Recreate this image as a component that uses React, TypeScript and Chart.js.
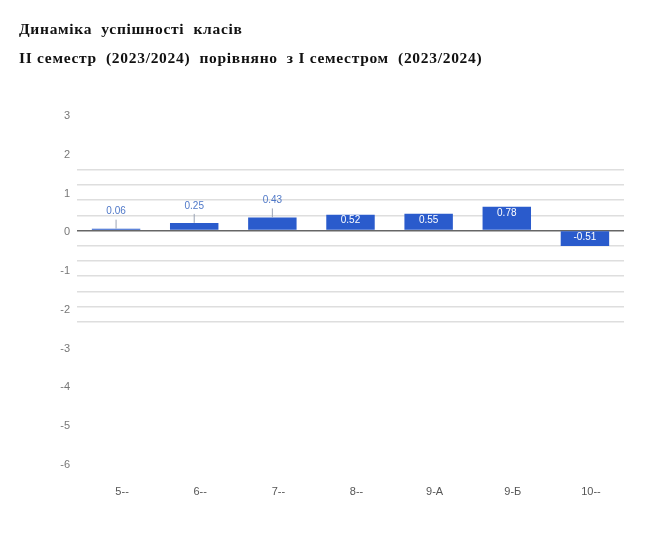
import React, { useEffect, useRef } from "react";
import { Chart, registerables } from "chart.js";

Chart.register(...registerables);

const classes = ["5--", "6--", "7--", "8--", "9-А", "9-Б", "10--"];
const changes = [0.06, 0.25, 0.43, 0.52, 0.55, 0.78, -0.51];
const axisLabels = [3, 2, 1, 0, -1, -2, -3, -4, -5, -6];
const titleLines = [
  "Динаміка  успішності  класів",
  "II семестр  (2023/2024)  порівняно  з I семестром  (2023/2024)",
];

const barColor = "#2a5bcc";

// labels drawn above small bars (with a short leader) or inside bigger ones
const valueLabels = {
  id: "valueLabels",
  afterDatasetsDraw(chart: any) {
    const ctx = chart.ctx as CanvasRenderingContext2D;
    const meta = chart.getDatasetMeta(0);
    ctx.save();
    ctx.font = "10px 'Liberation Sans', Arial, sans-serif";
    ctx.textAlign = "center";
    ctx.textBaseline = "middle";
    meta.data.forEach((bar: any, i: number) => {
      const v = changes[i];
      const top = Math.min(bar.y, bar.base);
      const h = Math.abs(bar.base - bar.y);
      const txt = v.toFixed(2);
      if (h < 14) {
        ctx.strokeStyle = "#9aa3b5";
        ctx.lineWidth = 1;
        ctx.beginPath();
        ctx.moveTo(bar.x, top);
        ctx.lineTo(bar.x, top - 9);
        ctx.stroke();
        ctx.fillStyle = "#4f78c8";
        ctx.fillText(txt, bar.x, top - 17);
      } else {
        ctx.fillStyle = "#ffffff";
        ctx.fillText(txt, bar.x, top + 6);
      }
    });
    ctx.restore();
  },
};

const BarChart = () => {
  const ref = useRef<HTMLCanvasElement>(null);

  useEffect(() => {
    const canvas = ref.current as HTMLCanvasElement;
    const config: any = {
      type: "bar",
      data: {
        labels: classes,
        datasets: [
          {
            data: changes,
            backgroundColor: barColor,
            borderWidth: 0,
            barPercentage: 0.62,
            categoryPercentage: 1,
            yAxisID: "yBar",
          },
        ],
      },
      options: {
        responsive: false,
        animation: false,
        layout: { padding: { top: 116, left: 0, right: 33, bottom: 31 } },
        plugins: {
          legend: { display: false },
          tooltip: { enabled: false },
        },
        scales: {
          x: {
            grid: { display: false, drawTicks: false },
            border: { display: false },
            ticks: {
              padding: 20,
              labelOffset: 6,
              color: "#555",
              font: { size: 11, family: "'Liberation Sans', Arial, sans-serif" },
            },
            afterFit: (s: any) => {
              s.height = 40;
            },
          },
          y: {
            position: "left",
            min: axisLabels[axisLabels.length - 1],
            max: axisLabels[0],
            grid: { display: false, drawTicks: false },
            border: { display: false },
            ticks: {
              stepSize: 1,
              padding: 7,
              color: "#777",
              font: { size: 11, family: "'Liberation Sans', Arial, sans-serif" },
            },
            afterFit: (s: any) => {
              s.width = 77;
            },
          },
          yBar: {
            position: "right",
            min: -7.714,
            max: 3.766,
            border: { display: false },
            ticks: { display: false, stepSize: 0.5 },
            grid: {
              drawTicks: false,
              color: (c: any) => {
                const v = c.tick ? c.tick.value : 99;
                if (Math.abs(v) < 1e-9) return "#666";
                if (v >= -3.01 && v <= 2.01) return "#dedede";
                return "rgba(0,0,0,0)";
              },
              lineWidth: 1.5,
            },
            afterFit: (s: any) => {
              s.width = 0;
            },
          },
        },
      },
      plugins: [valueLabels],
    };
    const chart = new Chart(canvas, config);
    return () => chart.destroy();
  }, []);

  return (
    <canvas
      ref={ref}
      width={657}
      height={536}
      style={{ position: "absolute", left: 0, top: 0, width: 657, height: 536 }}
    />
  );
};

export default function App() {
  return (
    <div
      style={{
        position: "absolute",
        left: 0,
        top: 0,
        width: 657,
        height: 536,
        background: "#fff",
        overflow: "hidden",
      }}
    >
      <BarChart />
      {titleLines.map((t, i) => (
        <div
          key={i}
          style={{
            position: "absolute",
            left: 19,
            top: 21 + i * 28.5,
            font: "bold 15.5px 'Liberation Serif', 'Times New Roman', serif",
            letterSpacing: "0.7px",
            lineHeight: "16px",
            whiteSpace: "pre",
            color: "#111",
          }}
        >
          {t}
        </div>
      ))}
    </div>
  );
}
